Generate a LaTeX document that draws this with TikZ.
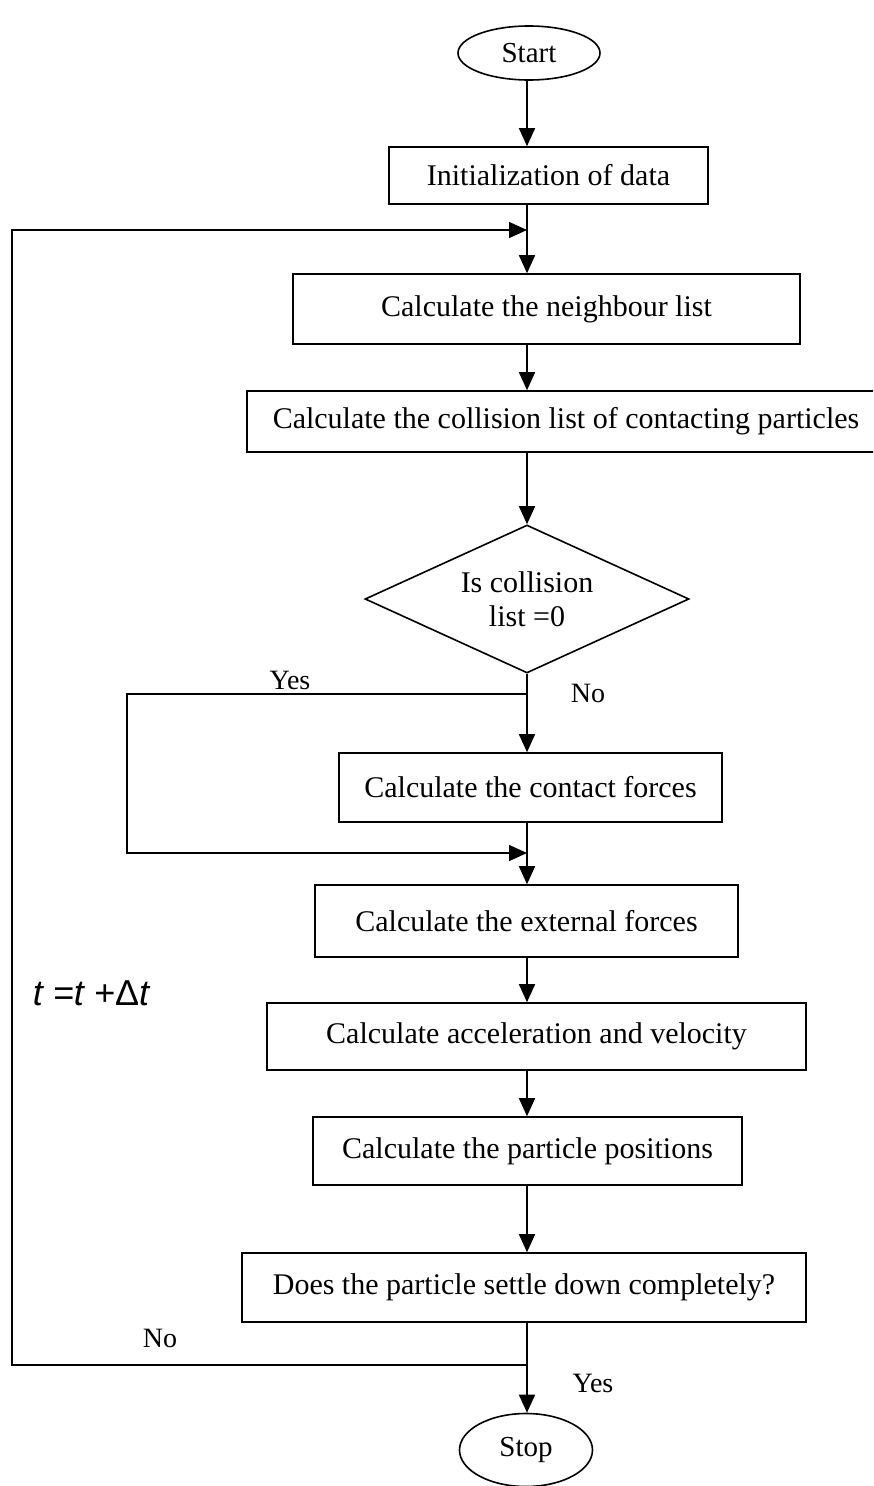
\documentclass[tikz,border=0pt]{standalone}
\usepackage{fontspec}
\setmainfont{Liberation Serif}
\newfontfamily\eqfont{Liberation Sans}
\usetikzlibrary{shapes.geometric,arrows.meta}

\begin{document}
\begin{tikzpicture}[x=1pt,y=1pt,yscale=-1,xscale=1,
  procbox/.style={draw, line width=1.6pt, rectangle, inner sep=0pt, font=\fontsize{30}{34}\selectfont},
  termbox/.style={draw, line width=1.6pt, ellipse, inner sep=0pt, font=\fontsize{29}{33}\selectfont},
  decbox/.style={draw, line width=1.6pt, diamond, aspect=2.2, inner sep=0pt, align=center, font=\fontsize{30}{34}\selectfont},
  flow/.style={line width=1.6pt, -{Triangle[length=18pt,width=16pt]}},
  link/.style={line width=1.6pt},
  lbl/.style={inner sep=0pt, font=\fontsize{28}{32}\selectfont}]
%set diagram size 873 x 1486
\useasboundingbox (0,0) rectangle (873,1486);
\clip (0,0) rectangle (873,1486);

%Shape: Ellipse [start]
\node[termbox, minimum width=142pt, minimum height=54pt] (start) at (529,53) {Start};
%Shape: Rectangle [init]
\node[procbox, minimum width=319pt, minimum height=57pt] (init) at (548.5,175.5) {Initialization of data};
%Shape: Rectangle [neigh]
\node[procbox, minimum width=507pt, minimum height=70pt] (neigh) at (546.5,309) {Calculate the neighbour list};
%Shape: Rectangle [collist], runs past the right edge
\node[procbox, minimum width=638pt, minimum height=61pt] (collist) at (566,421.5) {Calculate the collision list of contacting particles};
%Shape: Diamond [iszero]
\node[decbox, minimum width=324pt, minimum height=148pt] (iszero) at (527,599) {Is collision\\list =0};
%Shape: Rectangle [contact]
\node[procbox, minimum width=383pt, minimum height=69pt] (contact) at (530.5,787.5) {Calculate the contact forces};
%Shape: Rectangle [extern]
\node[procbox, minimum width=423pt, minimum height=72pt] (extern) at (526.5,921) {Calculate the external forces};
%Shape: Rectangle [accel]
\node[procbox, minimum width=539pt, minimum height=67pt] (accel) at (536.5,1036.5) {Calculate acceleration and velocity};
%Shape: Rectangle [posit]
\node[procbox, minimum width=429pt, minimum height=68pt] (posit) at (527.5,1151) {Calculate the particle positions};
%Shape: Rectangle [settle]
\node[procbox, minimum width=564pt, minimum height=69pt] (settle) at (524,1287.5) {Does the particle settle down completely?};
%Shape: Ellipse [stop]
\node[termbox, minimum width=133pt, minimum height=73pt] (stop) at (526,1450) {Stop};

%Corner points of the two loops
\coordinate (spine) at (527,0);
\coordinate (tjoin) at (527,230);
\coordinate (tleft) at (12,230);
\coordinate (bleft) at (12,1365);
\coordinate (bjoin) at (527,1365);
\coordinate (yjoin) at (527,694);
\coordinate (yleft) at (127,694);
\coordinate (yback) at (127,853);
\coordinate (cjoin) at (527,853);

%Straight Lines
\draw[flow] (start.south -| spine) -- (init.north -| spine);
\draw[flow] (init.south -| spine) -- (neigh.north -| spine);
\draw[flow] (neigh.south -| spine) -- (collist.north -| spine);
\draw[flow] (collist.south -| spine) -- (iszero.north);
\draw[flow] (iszero.south) -- (contact.north -| spine);
\draw[flow] (contact.south -| spine) -- (extern.north -| spine);
\draw[flow] (extern.south -| spine) -- (accel.north -| spine);
\draw[flow] (accel.south -| spine) -- (posit.north -| spine);
\draw[flow] (posit.south -| spine) -- (settle.north -| spine);
\draw[flow] (settle.south -| spine) -- (stop.north -| spine);
%Yes branch of the test
\draw[flow] (yjoin) -- (yleft) -- (yback) -- (cjoin);
%No branch, back to the time loop
\draw[flow] (bjoin) -- (bleft) -- (tleft) -- (tjoin);

% Text Node
\node[lbl] (yes1) at (290,680) {Yes};
% Text Node
\node[lbl] (no1) at (588,693) {No};
% Text Node
\node[lbl] (no2) at (160,1338) {No};
% Text Node
\node[lbl] (yes2) at (593,1383) {Yes};
% Text Node
\node[inner sep=0pt, font=\fontsize{36}{40}\eqfont] (tstep) at (91,993) {\itshape t =t +\upshape Δ\itshape t};

\end{tikzpicture}
\end{document}
